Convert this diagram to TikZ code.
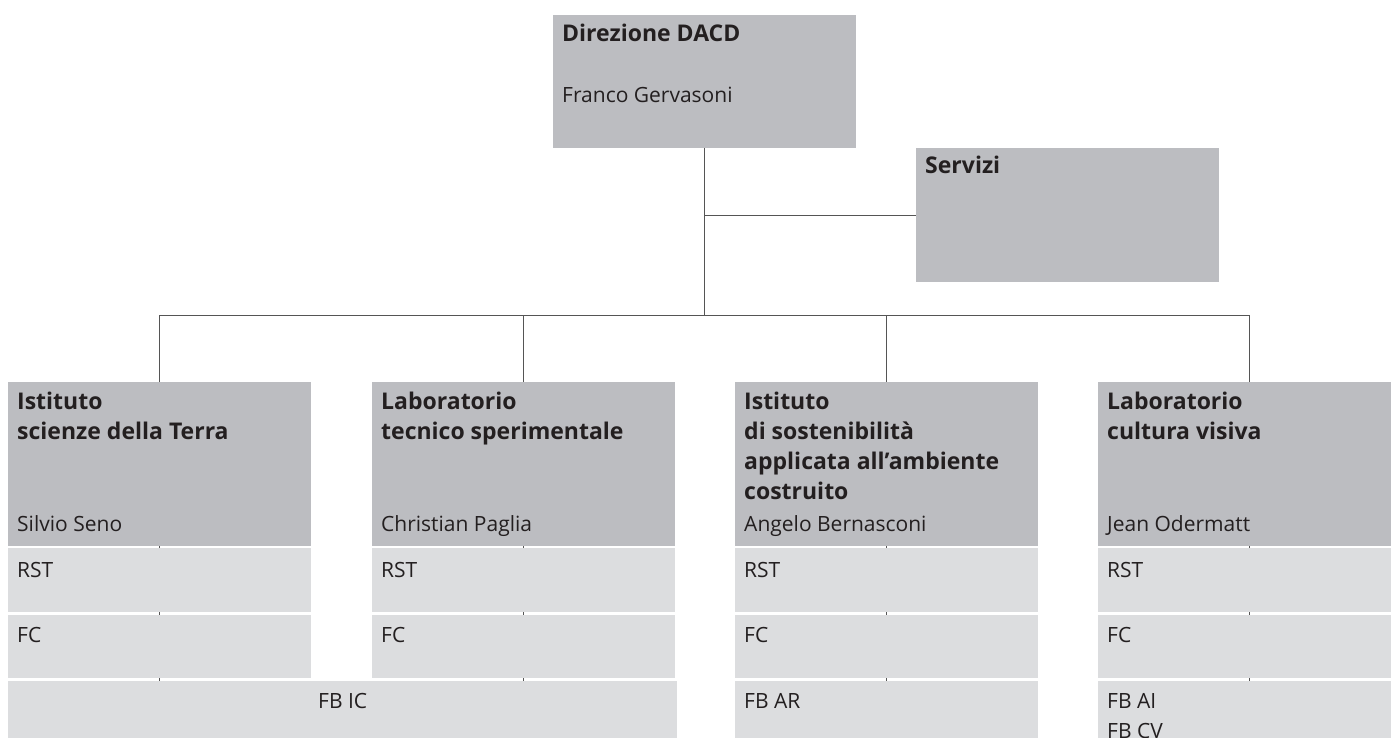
\documentclass[tikz,border=0pt]{standalone}
\usepackage{fontspec}
\setmainfont{Open Sans}
\usetikzlibrary{backgrounds}
\definecolor{boxdark}{RGB}{188,189,193}
\definecolor{boxlight}{RGB}{220,221,223}
\definecolor{linegray}{RGB}{85,85,85}
\definecolor{inkgray}{RGB}{35,31,32}
\newcommand{\stack}[1]{\begin{tabular}[t]{@{}l@{}}#1\end{tabular}}
\tikzset{
  unit/.style={draw=none, inner sep=0, anchor=north west, minimum width=303pt},
  headbox/.style={unit, fill=boxdark},
  subbox/.style={unit, fill=boxlight},
  head/.style={anchor=base west, inner sep=0, text=inkgray,
    font=\fontsize{23}{30}\selectfont\bfseries},
  nm/.style={anchor=base west, inner sep=0, text=inkgray,
    font=\fontsize{21}{30}\selectfont},
  wire/.style={draw=linegray, line width=1pt}
}
\begin{document}
\begin{tikzpicture}[x=1pt,y=-1pt]
\useasboundingbox (0,0) rectangle (1391,738);
\clip (0,0) rectangle (1391,738);

\node[headbox, minimum height=133pt] (dir) at (553,15) {};
\node[head] at ([shift={(9,27)}]dir.north west) {Direzione DACD};
\node[nm] at ([shift={(9,88)}]dir.north west) {Franco Gervasoni};

\node[headbox, minimum height=134pt] (serv) at (916,148) {};
\node[head] at ([shift={(9,26)}]serv.north west) {Servizi};

\coordinate (bus) at (0,315);

\foreach \c/\x in {terra/8, lab/372, sost/735, visiva/1098} {
  \node[headbox, minimum height=164pt] (\c) at (\x,382) {};
  \node[subbox, minimum height=64pt] (\c-rst) at (\x,548) {};
  \node[subbox, minimum height=63pt] (\c-fc) at (\x,615) {};
  \node[nm] at ([shift={(9,29)}]\c-rst.north west) {RST};
  \node[nm] at ([shift={(9,27)}]\c-fc.north west) {FC};
}

\node[head] at ([shift={(9,27)}]terra.north west) {\stack{Istituto\\scienze della Terra}};
\node[nm] at ([shift={(9,-15)}]terra.south west) {Silvio Seno};
\node[head] at ([shift={(9,27)}]lab.north west) {\stack{Laboratorio\\tecnico sperimentale}};
\node[nm] at ([shift={(9,-15)}]lab.south west) {Christian Paglia};
\node[head] at ([shift={(9,27)}]sost.north west) {\stack{Istituto\\di sostenibilità\\applicata all’ambiente\\costruito}};
\node[nm] at ([shift={(9,-15)}]sost.south west) {Angelo Bernasconi};
\node[head] at ([shift={(9,27)}]visiva.north west) {\stack{Laboratorio\\cultura visiva}};
\node[nm] at ([shift={(9,-15)}]visiva.south west) {Jean Odermatt};

\node[subbox, minimum width=669pt, minimum height=64pt] (fbic) at (8,681) {};
\node[nm, anchor=base] at ([shift={(0,27)}]fbic.north) {FB IC};
\node[subbox, minimum height=64pt] (fbar) at (735,681) {};
\node[nm] at ([shift={(9,27)}]fbar.north west) {FB AR};
\node[subbox, minimum height=64pt] (fbav) at (1098,681) {};
\node[nm] at ([shift={(9,27)}]fbav.north west) {\stack{FB AI\\FB CV}};

\begin{scope}[on background layer]
\draw[wire] (dir.south) -- (dir.south |- bus);
\draw[wire] (serv.west) -- (serv.west -| dir.south);
\draw[wire] (terra.north |- bus) -- (visiva.north |- bus);
\foreach \c in {terra, lab, sost, visiva}
  \draw[wire] (\c.north |- bus) -- (\c.north |- fbar.north);
\end{scope}
\end{tikzpicture}
\end{document}
